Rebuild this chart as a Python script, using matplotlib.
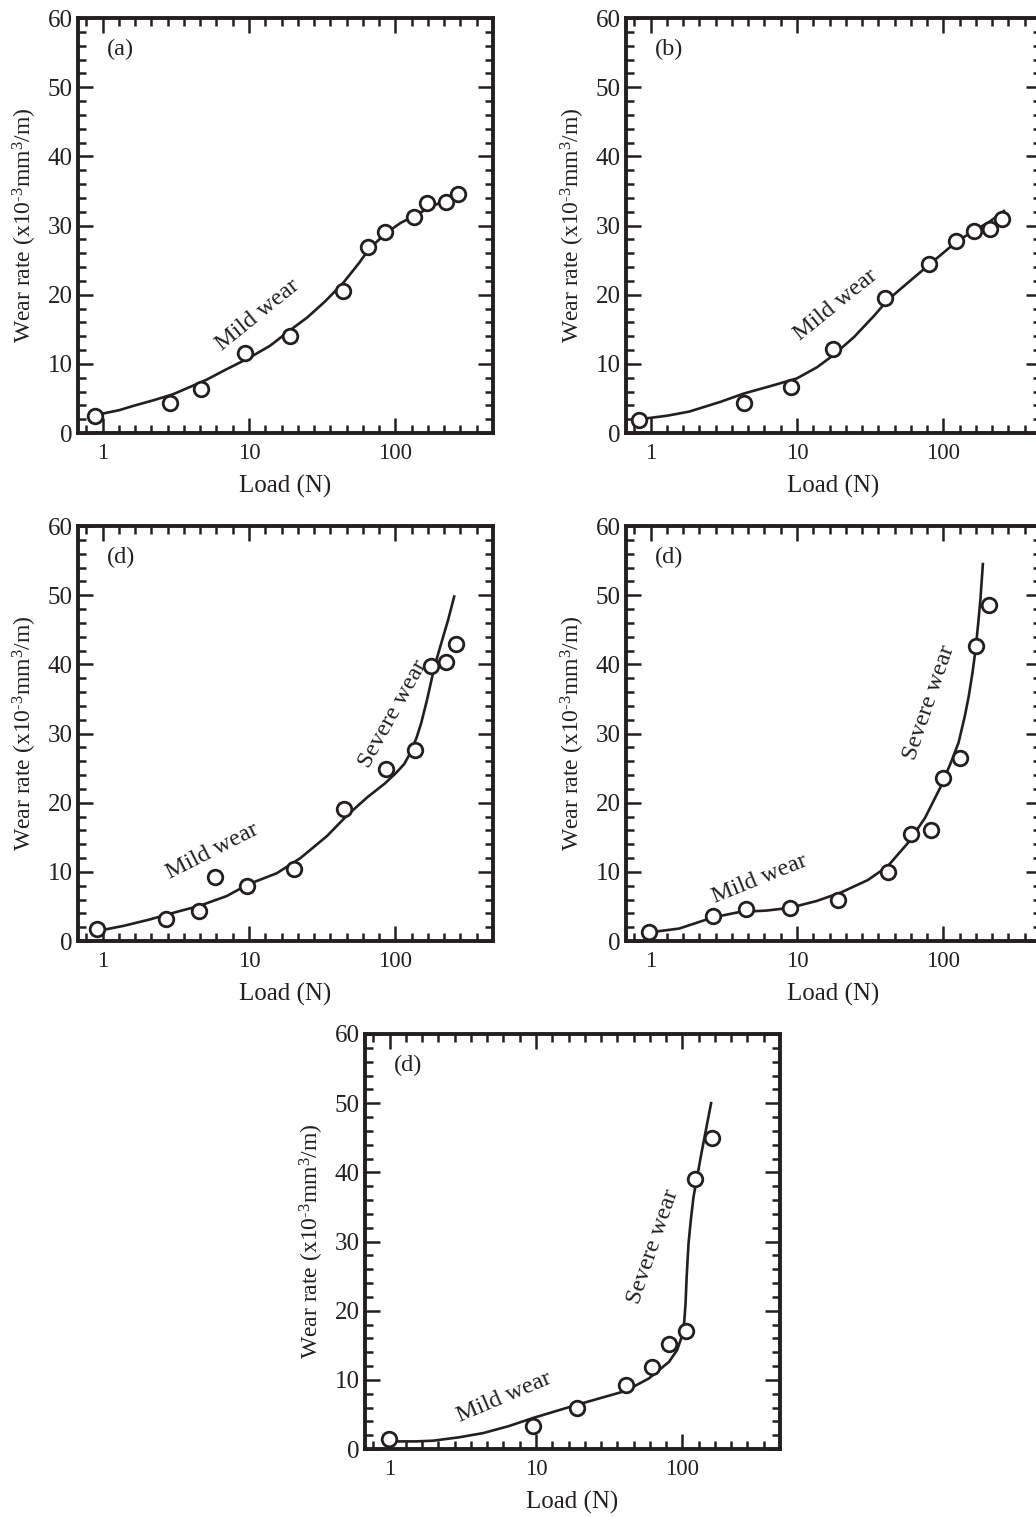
import numpy as np
import matplotlib
matplotlib.use("Agg")
import matplotlib.pyplot as plt
from matplotlib.ticker import FixedLocator, NullFormatter

plt.rcParams['font.family'] = ['Liberation Serif', 'DejaVu Serif']
plt.rcParams['mathtext.fontset'] = 'custom'
plt.rcParams['mathtext.rm'] = 'Liberation Serif'
plt.rcParams['mathtext.it'] = 'Liberation Serif:italic'

INK = '#231f20'

# ---- panel (a)
load_a = [0.89, 2.87, 4.74, 9.4, 19.2, 44, 65, 85, 133, 165, 223, 268]
wear_a = [2.5, 4.4, 6.4, 11.6, 14.0, 20.6, 26.9, 29.1, 31.2, 33.3, 33.4, 34.5]
fit_load_a = [0.90, 1.3, 1.61, 2.2, 3.03, 4.0, 5.13, 7.0, 9.9, 13.9, 19.2, 25, 33, 44,
              56.6, 65, 75, 85, 109, 133, 167, 223, 262]
fit_wear_a = [2.6, 3.3, 3.9, 4.7, 5.6, 6.7, 7.7, 9.2, 10.8, 12.6, 14.9, 16.7, 19.0, 21.7,
              24.6, 26.4, 27.7, 28.8, 30.4, 31.3, 32.5, 33.7, 34.7]

# ---- panel (b)
load_b = [0.84, 4.33, 9.1, 17.6, 40, 79.6, 122, 163, 207, 250]
wear_b = [1.9, 4.4, 6.6, 12.1, 19.5, 24.5, 27.7, 29.2, 29.5, 31.0]
fit_load_b = [0.85, 1.3, 1.84, 3.0, 4.33, 6.9, 10, 13.7, 17.6, 24.6, 33.8, 41.5, 57,
              79.6, 122, 163, 205, 259]
fit_wear_b = [2.0, 2.5, 3.1, 4.5, 5.7, 6.9, 7.9, 9.5, 11.2, 13.9, 17.0, 19.2, 21.7,
              24.3, 27.6, 29.3, 30.5, 32.1]

# ---- panel (c), labelled (d) in the figure
load_c = [0.91, 2.73, 4.55, 5.86, 9.76, 20.2, 44.7, 86, 136, 176, 220, 258]
wear_c = [1.7, 3.2, 4.4, 9.2, 8.0, 10.4, 19.1, 24.8, 27.6, 39.8, 40.3, 43.0]
fit_load_c = [0.95, 1.4, 2.09, 3.2, 4.62, 7.05, 9.9, 15.5, 22.5, 34.2, 47, 64.5, 85,
              101, 115, 128, 140, 150, 165, 185, 206, 229, 252]
fit_wear_c = [1.5, 2.2, 3.1, 4.2, 5.1, 6.5, 8.2, 9.8, 12.0, 15.2, 18.2, 20.8, 22.8,
              24.3, 25.6, 27.4, 29.5, 31.5, 35.0, 39.7, 43.1, 46.4, 49.8]

# ---- panel (d)
load_d = [0.97, 2.66, 4.52, 9.0, 19.2, 41.6, 60.2, 82, 100, 129, 166, 205]
wear_d = [1.3, 3.6, 4.6, 4.7, 6.0, 10.0, 15.4, 16.1, 23.5, 26.5, 42.7, 48.6]
fit_load_d = [1.03, 1.57, 2.66, 4.07, 6.2, 9.0, 13.7, 19.9, 30.4, 41.6, 57.4, 74.9,
              97.4, 115, 127, 140, 149, 158, 166, 173, 179, 186]
fit_wear_d = [1.3, 1.8, 3.4, 4.2, 4.4, 4.8, 5.8, 7.0, 8.8, 10.8, 14.2, 17.8,
              22.6, 26.3, 28.7, 32.5, 35.4, 38.8, 42.2, 46.0, 49.4, 54.5]

# ---- panel (e), bottom
load_e = [0.99, 9.6, 19.1, 41, 61.6, 81, 106, 121, 160]
wear_e = [1.5, 3.3, 5.9, 9.3, 11.9, 15.2, 17.0, 39.1, 44.9]
fit_load_e = [1.06, 1.5, 1.99, 3.0, 4.36, 6.5, 9.6, 19.1, 41, 59, 81, 92, 100, 103,
              105, 107, 110, 114, 119, 135, 157]
fit_wear_e = [1.1, 1.1, 1.2, 1.7, 2.3, 3.3, 4.5, 6.4, 8.4, 10.2, 12.6, 14.3, 16.5, 18.5,
              20.9, 25.0, 29.6, 33.0, 36.4, 42.8, 50.0]

W, H = 1036, 1517
fig = plt.figure(figsize=(W / 100, H / 100), dpi=100)

YLABEL = 'Wear rate (x10$^{\\mathregular{\u20103}}$mm$^{\\mathregular{3}}$/m)'


def panel(left, top, tag, load, wear, fit_load, fit_wear, notes):
    side = 415
    ax = fig.add_axes([left / W, 1 - (top + side) / H, side / W, side / H])
    ax.plot(fit_load, fit_wear, color=INK, lw=1.9, zorder=2, clip_on=False,
            solid_joinstyle='round')
    ax.plot(load, wear, 'o', ms=10.5, mew=2.0, mec=INK, mfc='white', zorder=3, clip_on=False)
    ax.set_xscale('log')
    ax.set_xlim(0.68, 464)
    ax.set_ylim(0, 60)
    ax.xaxis.set_major_locator(FixedLocator([1, 10, 100]))
    ax.set_xticklabels(['1', '10', '100'])
    minors = [10 ** (k / 9) for k in range(-1, 25) if k % 9 != 0]
    ax.xaxis.set_minor_locator(FixedLocator(minors))
    ax.xaxis.set_minor_formatter(NullFormatter())
    ax.set_yticks(np.arange(0, 61, 10))
    ax.set_yticks(np.arange(0, 61, 2), minor=True)
    ax.tick_params(which='both', direction='in', top=True, right=True, color=INK,
                   labelcolor=INK)
    ax.tick_params(which='major', length=11, width=1.8)
    ax.tick_params(which='minor', length=6, width=1.8)
    ax.tick_params(axis='x', pad=7, labelsize=16.5)
    ax.tick_params(axis='y', pad=4, labelsize=18)
    for s in ax.spines.values():
        s.set_linewidth(2.8)
        s.set_color(INK)
    ax.set_xlabel('Load (N)', fontsize=18, color=INK, labelpad=8)
    ax.set_ylabel(YLABEL, fontsize=17, color=INK, labelpad=6)
    ax.text(0.07, 0.925, tag, transform=ax.transAxes, fontsize=17.5, color=INK,
            ha='left', va='center')
    for txt, x, y, rot in notes:
        ax.text(x, y, txt, fontsize=17.5, color=INK, rotation=rot,
                ha='center', va='center', rotation_mode='anchor')
    return ax


panel(78, 18, '(a)', load_a, wear_a, fit_load_a, fit_wear_a,
      [('Mild wear', 11.4, 17.0, 39)])
panel(626, 18, '(b)', load_b, wear_b, fit_load_b, fit_wear_b,
      [('Mild wear', 18.3, 18.5, 39)])
panel(78, 526, '(d)', load_c, wear_c, fit_load_c, fit_wear_c,
      [('Mild wear', 5.6, 13.0, 27), ('Severe wear', 97, 32.8, 61)])
panel(626, 526, '(d)', load_d, wear_d, fit_load_d, fit_wear_d,
      [('Mild wear', 5.56, 8.9, 22), ('Severe wear', 80, 34.5, 71)])
panel(365, 1034, '(d)', load_e, wear_e, fit_load_e, fit_wear_e,
      [('Mild wear', 6.06, 7.5, 23), ('Severe wear', 63.5, 29.3, 71)])

fig.savefig('out.png', dpi=100, facecolor='white')
